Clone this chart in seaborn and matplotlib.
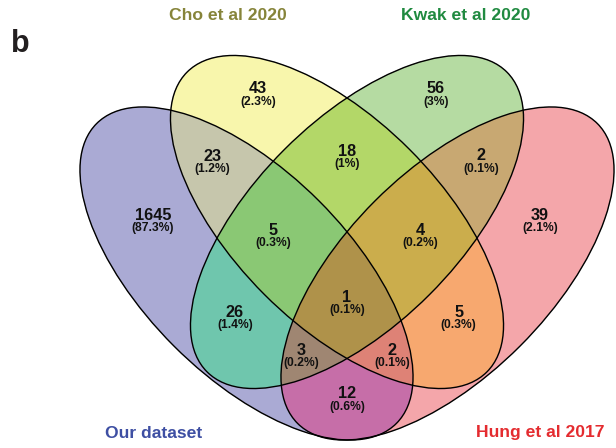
import numpy as np
import matplotlib
matplotlib.use("Agg")
import matplotlib.pyplot as plt
from matplotlib.patches import Ellipse
import seaborn as sns

# ---- data -------------------------------------------------------------
set_names = ["Our dataset", "Cho et al 2020", "Kwak et al 2020", "Hung et al 2017"]

# membership of each region in (Our dataset, Cho, Kwak, Hung)
region_sets = [
    (1, 0, 0, 0), (0, 1, 0, 0), (0, 0, 1, 0), (0, 0, 0, 1),
    (1, 1, 0, 0), (0, 1, 1, 0), (0, 0, 1, 1),
    (1, 1, 1, 0), (0, 1, 1, 1),
    (1, 0, 1, 0), (1, 1, 1, 1), (0, 1, 0, 1),
    (1, 0, 1, 1), (1, 1, 0, 1), (1, 0, 0, 1),
]
region_counts = [1645, 43, 56, 39, 23, 18, 2, 5, 4, 26, 1, 5, 3, 2, 12]

# ---- styling / layout -------------------------------------------------
sns.set_theme(style="white")
plt.rcParams["font.family"] = ["Liberation Sans", "DejaVu Sans"]

set_label_colors = ["#3e4fa3", "#86843a", "#208a40", "#e42b2f"]

region_colors = sns.color_palette([
    "#aaaad4", "#f8f6ac", "#b5dba2", "#f5a7aa",
    "#c6c6ac", "#b4d768", "#c9a872",
    "#8ac974", "#cbad4c",
    "#70c7ad", "#af924b", "#f7a870",
    "#a08773", "#de8276", "#c76ea8",
])

# ellipse geometry (centre x, centre y, semi-major, semi-minor, angle)
ellipses = [
    (246.5, 273.5, 212.0, 102.6, 45),
    (337.0, 222.0, 212.0, 102.6, 45),
    (357.0, 222.0, 212.0, 102.6, -45),
    (447.5, 273.5, 212.0, 102.6, -45),
]

# label anchor (x, baseline y) per region
label_pos = [
    (152.8, 220.0), (257.8, 93.3), (435.7, 93.3), (540.0, 220.0),
    (212.7, 160.7), (346.8, 156.0), (480.8, 160.5),
    (273.2, 235.0), (420.3, 235.0),
    (234.8, 316.7), (346.8, 302.0), (458.7, 316.7),
    (301.5, 355.0), (392.0, 355.0), (347.0, 398.3),
]
set_label_pos = [(153.5, 437.5), (227.8, 19.6), (466.0, 19.6), (540.0, 437.5)]

W, H = 616, 448
fig = plt.figure(figsize=(W / 100, H / 100), dpi=100)
ax = fig.add_axes([0, 0, 1, 1])
ax.set_xlim(0, W)
ax.set_ylim(H, 0)
ax.set_axis_off()

# ---- region fills ----------------------------------------------------
ss = 3
xs = (np.arange(W * ss) + 0.5) / ss
ys = (np.arange(H * ss) + 0.5) / ss
X, Y = np.meshgrid(xs, ys)
inside = []
for cx, cy, a, b, ang in ellipses:
    t = np.deg2rad(ang)
    dx, dy = X - cx, Y - cy
    u = dx * np.cos(t) + dy * np.sin(t)
    v = -dx * np.sin(t) + dy * np.cos(t)
    inside.append((u / a) ** 2 + (v / b) ** 2 <= 1.0)

img = np.zeros((H * ss, W * ss, 4))
for member, col in zip(region_sets, region_colors):
    mask = np.ones_like(X, dtype=bool)
    for flag, ins in zip(member, inside):
        mask &= ins if flag else ~ins
    img[mask, :3] = col
    img[mask, 3] = 1.0
ax.imshow(img, extent=(0, W, H, 0), origin="upper", interpolation="antialiased", zorder=1)

# ---- outlines --------------------------------------------------------
for cx, cy, a, b, ang in ellipses:
    ax.add_patch(Ellipse((cx, cy), 2 * a, 2 * b, angle=ang, fill=False,
                         ec="black", lw=1.0, zorder=2))

# ---- region labels ---------------------------------------------------
total = sum(region_counts)
for (x, y), n in zip(label_pos, region_counts):
    pct = round(100 * n / total, 1)
    ax.text(x, y, f"{n}", ha="center", va="baseline", fontsize=11.7,
            fontweight="bold", color="#111111", zorder=3)
    ax.text(x, y + 11.3, f"({pct:g}%)", ha="center", va="baseline",
            fontsize=8.7, fontweight="bold", color="#111111", zorder=3)

# ---- set names -------------------------------------------------------
for (x, y), name, col in zip(set_label_pos, set_names, set_label_colors):
    ax.text(x, y, name, ha="center", va="baseline", fontsize=12.6,
            fontweight="bold", color=col, zorder=3)

ax.text(11, 52.4, "b", ha="left", va="baseline", fontsize=22,
        fontweight="bold", color="#231f20")

fig.savefig("out.png", dpi=100)
